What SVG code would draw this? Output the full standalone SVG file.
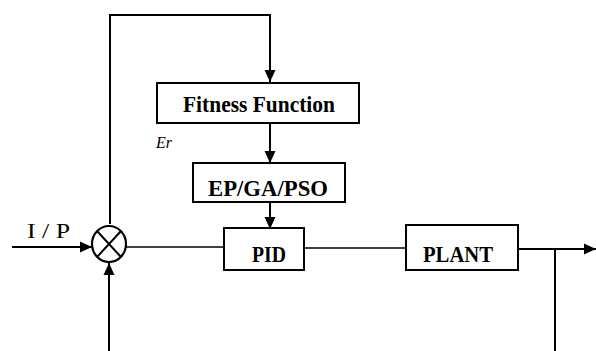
<svg xmlns="http://www.w3.org/2000/svg" width="596" height="351" viewBox="0 0 596 351">
<defs>
<marker id="ah" markerWidth="12" markerHeight="12" refX="12" refY="6" orient="auto" markerUnits="userSpaceOnUse">
<path d="M0,0.5 L12,6 L0,11.5 Z" fill="#000"/>
</marker>
<style>
.box{fill:#fff;stroke:#000;stroke-width:2}
.lbl{font-weight:bold;font-size:23px;fill:#000;text-anchor:middle}
.ln{fill:none;stroke:#000;stroke-width:2}
.thin{fill:none;stroke:#000;stroke-width:1.4}
</style>
</defs>
<rect width="596" height="351" fill="#fff"/>
<g id="connectors">
<path class="ln" d="M110,224 L110,15 L270,15 L270,82" marker-end="url(#ah)"/>
<path class="ln" d="M270,123 L270,163" marker-end="url(#ah)"/>
<path class="ln" d="M270,202 L270,229" marker-end="url(#ah)"/>
<path class="ln" d="M12,247 L92,247" marker-end="url(#ah)"/>
<path class="ln" d="M109,351 L109,263" marker-end="url(#ah)"/>
<path class="thin" d="M126,247 L224,247"/>
<path class="thin" d="M304,248 L406,248"/>
<path class="ln" d="M518,249 L596,249" stroke-width="2.5" marker-end="url(#ah)"/>
<path class="ln" d="M555,249 L555,351"/>
</g>
<g id="sum">
<ellipse cx="109" cy="244" rx="17" ry="18" fill="#fff" stroke="#000" stroke-width="2.2"/>
<path d="M97,231 L121,257 M121,231 L97,257" stroke="#000" stroke-width="2"/>
</g>
<g id="fitness">
<rect class="box" x="157" y="83" width="202" height="40"/>
<text class="lbl" font-family="Liberation Serif, serif" x="259" y="112" textLength="152" lengthAdjust="spacingAndGlyphs">Fitness Function</text>
</g>
<g id="er">
<text x="156" y="148" font-family="Liberation Serif, serif" font-style="italic" font-size="16" fill="#000">Er</text>
</g>
<g id="epgapso">
<rect class="box" x="193" y="163" width="152" height="39"/>
<text class="lbl" font-family="Liberation Serif, serif" x="268" y="196" textLength="120" lengthAdjust="spacingAndGlyphs">EP/GA/PSO</text>
</g>
<g id="pid">
<rect class="box" x="224" y="228" width="80" height="42"/>
<text class="lbl" font-family="Liberation Serif, serif" x="269" y="262" textLength="34" lengthAdjust="spacingAndGlyphs">PID</text>
</g>
<g id="plant">
<rect class="box" x="406" y="225" width="112" height="45"/>
<text class="lbl" font-family="Liberation Serif, serif" x="458" y="262" textLength="70" lengthAdjust="spacingAndGlyphs">PLANT</text>
</g>
<g id="input">
<text x="27" y="238" font-family="Liberation Serif, serif" font-size="22" fill="#000" textLength="43" lengthAdjust="spacingAndGlyphs">I / P</text>
</g>
</svg>
